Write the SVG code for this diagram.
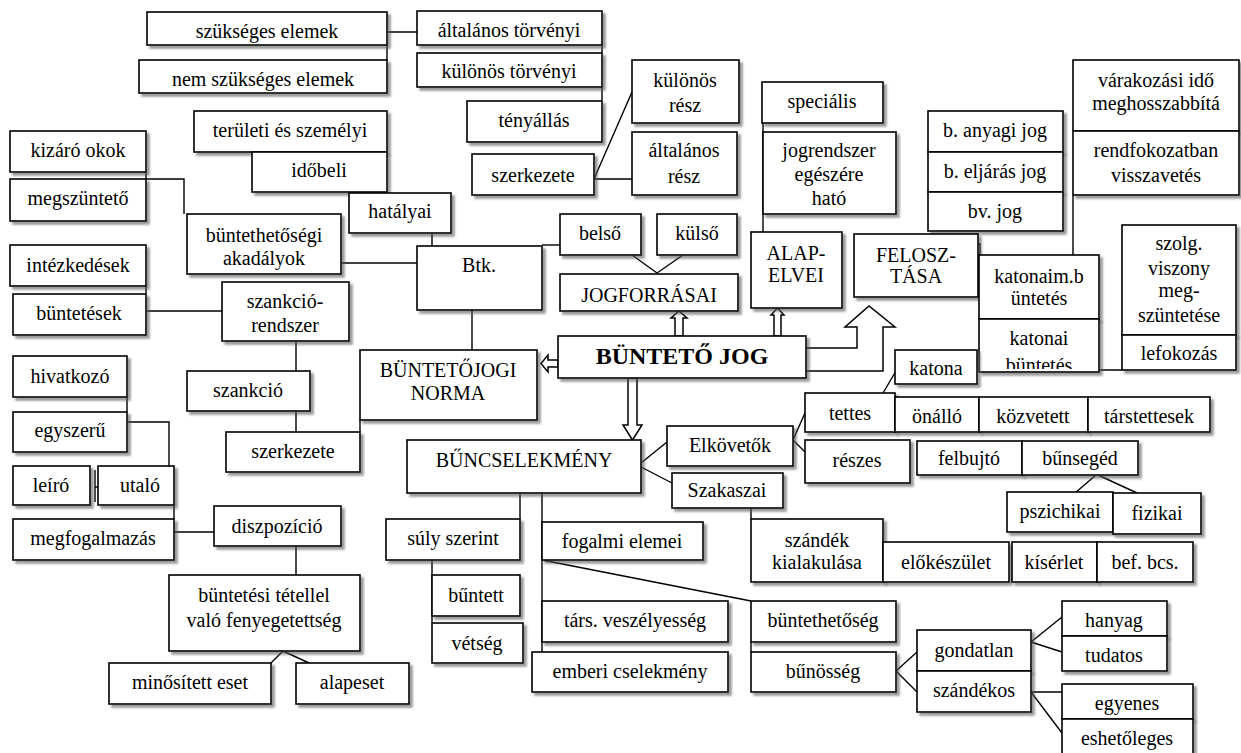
<svg xmlns="http://www.w3.org/2000/svg" width="1241" height="753" viewBox="0 0 1241 753">
<defs>
<filter id="sh" x="-10%" y="-10%" width="125%" height="140%"><feDropShadow dx="3" dy="3" stdDeviation="1" flood-color="#555" flood-opacity="0.6"/></filter>
<clipPath id="clipKB" clipPathUnits="userSpaceOnUse"><rect x="979" y="319" width="120" height="50"/></clipPath>
<style>
.b rect{fill:#fff;stroke:#000;stroke-width:1.6;filter:url(#sh)}
text{font-family:"Liberation Serif","Times New Roman",serif;font-size:20px;text-anchor:middle;fill:#000}
.big{font-size:24px;font-weight:bold}
#connectors path{fill:none;stroke:#000;stroke-width:1.4}
#connectors .ar{fill:#fff;stroke:#000;stroke-width:1.5}
</style>
</defs>
<rect width="1241" height="753" fill="#fff"/>

<g id="connectors">
<path d="M387,32 H417 M387,45 V60"/>
<path d="M602,45 V53 M602,87 V101"/>
<path d="M594,179 L632,92 M594,179 H632"/>
<path d="M763,123 V232"/>
<path d="M146,172 V179 H184 V214"/>
<path d="M341,263 H417"/>
<path d="M432,233 V246"/>
<path d="M542,245 H560"/>
<path d="M632,255 L657,273 M683,255 L657,273"/>
<path d="M146,286 V294 M146,311 H222"/>
<path d="M296,341 V371 M296,411 V432 M360,420 V432"/>
<path d="M472,310 V350"/>
<path d="M127,397 V412 M127,422 H169 V466 M95,470 V502 M95,487 H108"/>
<path d="M174,505 V519 M174,532 H214 M296,546 V575"/>
<path d="M283,651 L271,663 M283,651 L309,663"/>
<path d="M520,493 V519 M432,560 V623 M542,493 V692 M542,560 L751,601 M751,642 V652"/>
<path d="M641,463 L667,442 M641,467 L672,483 M751,508 V519"/>
<path d="M793,440 L805,413 M793,440 L805,452"/>
<path d="M896,371 L883,393"/>
<path d="M1096,475 L1075,493 M1098,475 L1137,493"/>
<path d="M896,671 L917,652 M896,671 L917,692"/>
<path d="M1031,642 L1062,617 M1031,642 L1062,652"/>
<path d="M1031,692 H1062 M1031,692 L1062,733"/>
<path d="M1073,195 V255 M978,244 H980 V255 M1099,370 H1122"/>
<polygon class="ar" points="675,336 675,318 671,318 679,311 687,318 683,318 683,336"/>
<polygon class="ar" points="774,336 774,315 771,315 777.5,308 784,315 781,315 781,336"/>
<polygon class="ar" points="558,360 548,360 548,355 541,363.5 548,372 548,367 558,367"/>
<polygon class="ar" points="628,378 628,425 623,425 632.5,440 642,425 637,425 637,378"/>
<path class="ar" d="M806,348 H857 V327 H845 L869,306 L895,327 H883 V371 H806"/>
</g>

<g id="n-szukseges" class="b"><rect x="147" y="12" width="240" height="33"/><text x="267" y="38">szükséges elemek</text></g>
<g id="n-nemszukseges" class="b"><rect x="139" y="60" width="248" height="33"/><text x="263" y="86">nem szükséges elemek</text></g>
<g id="n-altalanos-torv" class="b"><rect x="417" y="11" width="185" height="34"/><text x="509" y="37">általános törvényi</text></g>
<g id="n-kulonos-torv" class="b"><rect x="417" y="53" width="185" height="34"/><text x="509" y="78">különös törvényi</text></g>
<g id="n-tenyallas" class="b"><rect x="467" y="101" width="135" height="41"/><text x="534" y="127">tényállás</text></g>
<g id="n-szerkezete-top" class="b"><rect x="472" y="154" width="122" height="41"/><text x="533" y="182">szerkezete</text></g>
<g id="n-kulonos-resz" class="b"><rect x="632" y="60" width="107" height="63"/><text x="685" y="87">különös</text><text x="685" y="112">rész</text></g>
<g id="n-altalanos-resz" class="b"><rect x="632" y="132" width="105" height="63"/><text x="684" y="157">általános</text><text x="684" y="183">rész</text></g>
<g id="n-specialis" class="b"><rect x="762" y="82" width="121" height="41"/><text x="822" y="108">speciális</text></g>
<g id="n-jogrendszer" class="b"><rect x="763" y="132" width="133" height="82"/><text x="829" y="157">jogrendszer</text><text x="829" y="181">egészére</text><text x="829" y="205">ható</text></g>
<g id="n-b-anyagi" class="b"><rect x="928" y="111" width="135" height="41"/><text x="995" y="137">b. anyagi jog</text></g>
<g id="n-b-eljaras" class="b"><rect x="928" y="152" width="135" height="40"/><text x="995" y="178">b. eljárás jog</text></g>
<g id="n-bv-jog" class="b"><rect x="928" y="192" width="135" height="39"/><text x="995" y="218">bv. jog</text></g>
<g id="n-varakozasi" class="b"><rect x="1073" y="60" width="166" height="71"/><text x="1156" y="87">várakozási idő</text><text x="1156" y="110">meghosszabbítá</text></g>
<g id="n-rendfokozat" class="b"><rect x="1073" y="131" width="166" height="64"/><text x="1156" y="157">rendfokozatban</text><text x="1156" y="182">visszavetés</text></g>
<g id="n-teruleti" class="b"><rect x="194" y="111" width="193" height="41"/><text x="290" y="137">területi és személyi</text></g>
<g id="n-idobeli" class="b"><rect x="252" y="152" width="135" height="40"/><text x="319" y="177">időbeli</text></g>
<g id="n-hatalyai" class="b"><rect x="349" y="193" width="102" height="40"/><text x="400" y="218">hatályai</text></g>
<g id="n-kizaro" class="b"><rect x="10" y="131" width="136" height="41"/><text x="78" y="157">kizáró okok</text></g>
<g id="n-megszunteto" class="b"><rect x="10" y="179" width="136" height="42"/><text x="78" y="205">megszüntető</text></g>
<g id="n-akadalyok" class="b"><rect x="187" y="214" width="154" height="60"/><text x="264" y="242">büntethetőségi</text><text x="264" y="265">akadályok</text></g>
<g id="n-btk" class="b"><rect x="417" y="246" width="125" height="64"/><text x="479" y="272">Btk.</text></g>
<g id="n-belso" class="b"><rect x="560" y="214" width="81" height="41"/><text x="600" y="240">belső</text></g>
<g id="n-kulso" class="b"><rect x="657" y="214" width="80" height="41"/><text x="697" y="240">külső</text></g>
<g id="n-jogforrasai" class="b"><rect x="560" y="274" width="178" height="37"/><text x="649" y="302">JOGFORRÁSAI</text></g>
<g id="n-alapelvei" class="b"><rect x="751" y="232" width="91" height="76"/><text x="796" y="260">ALAP-</text><text x="796" y="282">ELVEI</text></g>
<g id="n-felosztasa" class="b"><rect x="854" y="234" width="124" height="63"/><text x="916" y="262">FELOSZ-</text><text x="916" y="283">TÁSA</text></g>
<g id="n-katonaimb" class="b"><rect x="979" y="255" width="120" height="64"/><text x="1039" y="283">katonaim.b</text><text x="1039" y="305">üntetés</text></g>
<g id="n-katonai-buntetes" class="b"><rect x="979" y="319" width="120" height="53"/><g clip-path="url(#clipKB)"><text x="1039" y="345">katonai</text><text x="1039" y="372">büntetés</text></g></g>
<g id="n-szolg" class="b"><rect x="1122" y="225" width="114" height="110"/><text x="1179" y="250">szolg.</text><text x="1179" y="275">viszony</text><text x="1179" y="297">meg-</text><text x="1179" y="322">szüntetése</text></g>
<g id="n-lefokozas" class="b"><rect x="1122" y="335" width="114" height="35"/><text x="1179" y="360">lefokozás</text></g>
<g id="n-katona" class="b"><rect x="895" y="350" width="82" height="34"/><text x="936" y="375">katona</text></g>
<g id="n-intezkedesek" class="b"><rect x="10" y="245" width="136" height="41"/><text x="78" y="272">intézkedések</text></g>
<g id="n-buntetesek" class="b"><rect x="13" y="294" width="133" height="41"/><text x="79" y="320">büntetések</text></g>
<g id="n-szankciorendszer" class="b"><rect x="222" y="282" width="127" height="59"/><text x="285" y="308">szankció-</text><text x="285" y="332">rendszer</text></g>
<g id="n-hivatkozo" class="b"><rect x="13" y="356" width="114" height="41"/><text x="70" y="383">hivatkozó</text></g>
<g id="n-egyszeru" class="b"><rect x="13" y="412" width="114" height="40"/><text x="70" y="437">egyszerű</text></g>
<g id="n-leiro" class="b"><rect x="13" y="466" width="77" height="39"/><text x="51" y="492">leíró</text></g>
<g id="n-utalo" class="b"><rect x="98" y="466" width="76" height="39"/><text x="140" y="492">utaló</text></g>
<g id="n-szankcio" class="b"><rect x="187" y="371" width="123" height="40"/><text x="248" y="397">szankció</text></g>
<g id="n-szerkezete-norma" class="b"><rect x="226" y="432" width="134" height="40"/><text x="293" y="458">szerkezete</text></g>
<g id="n-norma" class="b"><rect x="360" y="350" width="177" height="70"/><text x="448" y="377">BÜNTETŐJOGI</text><text x="448" y="400">NORMA</text></g>
<g id="n-buntetojog" class="b"><rect x="558" y="336" width="248" height="42"/><text class="big" x="682" y="364">BÜNTETŐ JOG</text></g>
<g id="n-buncselekmeny" class="b"><rect x="407" y="440" width="234" height="53"/><text x="524" y="467">BŰNCSELEKMÉNY</text></g>
<g id="n-elkovetok" class="b"><rect x="667" y="426" width="126" height="40"/><text x="730" y="452">Elkövetők</text></g>
<g id="n-szakaszai" class="b"><rect x="672" y="473" width="111" height="35"/><text x="727" y="497">Szakaszai</text></g>
<g id="n-tettes" class="b"><rect x="805" y="393" width="90" height="39"/><text x="850" y="420">tettes</text></g>
<g id="n-onallo" class="b"><rect x="895" y="397" width="84" height="35"/><text x="937" y="423">önálló</text></g>
<g id="n-kozvetett" class="b"><rect x="979" y="397" width="109" height="35"/><text x="1033" y="423">közvetett</text></g>
<g id="n-tarstettesek" class="b"><rect x="1088" y="397" width="122" height="35"/><text x="1149" y="423">társtettesek</text></g>
<g id="n-reszes" class="b"><rect x="805" y="440" width="105" height="43"/><text x="857" y="467">részes</text></g>
<g id="n-felbujto" class="b"><rect x="917" y="441" width="105" height="34"/><text x="969" y="465">felbujtó</text></g>
<g id="n-bunseged" class="b"><rect x="1022" y="441" width="116" height="34"/><text x="1080" y="465">bűnsegéd</text></g>
<g id="n-pszichikai" class="b"><rect x="1007" y="492" width="106" height="40"/><text x="1060" y="518">pszichikai</text></g>
<g id="n-fizikai" class="b"><rect x="1113" y="493" width="88" height="41"/><text x="1157" y="520">fizikai</text></g>
<g id="n-szandek-kial" class="b"><rect x="751" y="519" width="132" height="63"/><text x="817" y="547">szándék</text><text x="817" y="569">kialakulása</text></g>
<g id="n-elokeszulet" class="b"><rect x="883" y="542" width="126" height="40"/><text x="946" y="569">előkészület</text></g>
<g id="n-kiserlet" class="b"><rect x="1012" y="542" width="85" height="40"/><text x="1054" y="569">kísérlet</text></g>
<g id="n-befbcs" class="b"><rect x="1097" y="542" width="96" height="40"/><text x="1145" y="569">bef. bcs.</text></g>
<g id="n-megfogalmazas" class="b"><rect x="13" y="519" width="161" height="41"/><text x="93" y="545">megfogalmazás</text></g>
<g id="n-diszpozicio" class="b"><rect x="214" y="506" width="127" height="40"/><text x="277" y="533">diszpozíció</text></g>
<g id="n-buntetesi-tetel" class="b"><rect x="169" y="575" width="191" height="76"/><text x="264" y="602">büntetési tétellel</text><text x="264" y="627">való fenyegetettség</text></g>
<g id="n-minositett" class="b"><rect x="109" y="663" width="162" height="41"/><text x="190" y="689">minősített eset</text></g>
<g id="n-alapeset" class="b"><rect x="296" y="663" width="113" height="41"/><text x="352" y="689">alapeset</text></g>
<g id="n-suly" class="b"><rect x="386" y="519" width="134" height="41"/><text x="453" y="545">súly szerint</text></g>
<g id="n-buntett" class="b"><rect x="432" y="575" width="88" height="41"/><text x="476" y="602">bűntett</text></g>
<g id="n-vetseg" class="b"><rect x="432" y="623" width="91" height="40"/><text x="477" y="650">vétség</text></g>
<g id="n-fogalmi" class="b"><rect x="542" y="522" width="161" height="38"/><text x="622" y="548">fogalmi elemei</text></g>
<g id="n-tars" class="b"><rect x="542" y="601" width="186" height="41"/><text x="635" y="627">társ. veszélyesség</text></g>
<g id="n-emberi" class="b"><rect x="532" y="652" width="196" height="40"/><text x="630" y="678">emberi cselekmény</text></g>
<g id="n-buntethetoseg" class="b"><rect x="751" y="601" width="145" height="41"/><text x="823" y="627">büntethetőség</text></g>
<g id="n-bunosseg" class="b"><rect x="751" y="652" width="145" height="40"/><text x="823" y="678">bűnösség</text></g>
<g id="n-gondatlan" class="b"><rect x="917" y="630" width="114" height="41"/><text x="974" y="657">gondatlan</text></g>
<g id="n-szandekos" class="b"><rect x="917" y="671" width="114" height="41"/><text x="974" y="697">szándékos</text></g>
<g id="n-hanyag" class="b"><rect x="1062" y="601" width="105" height="35"/><text x="1114" y="627">hanyag</text></g>
<g id="n-tudatos" class="b"><rect x="1062" y="636" width="105" height="35"/><text x="1114" y="662">tudatos</text></g>
<g id="n-egyenes" class="b"><rect x="1062" y="684" width="131" height="35"/><text x="1127" y="710">egyenes</text></g>
<g id="n-eshetoleges" class="b"><rect x="1062" y="719" width="131" height="40"/><text x="1127" y="745">eshetőleges</text></g>
</svg>
